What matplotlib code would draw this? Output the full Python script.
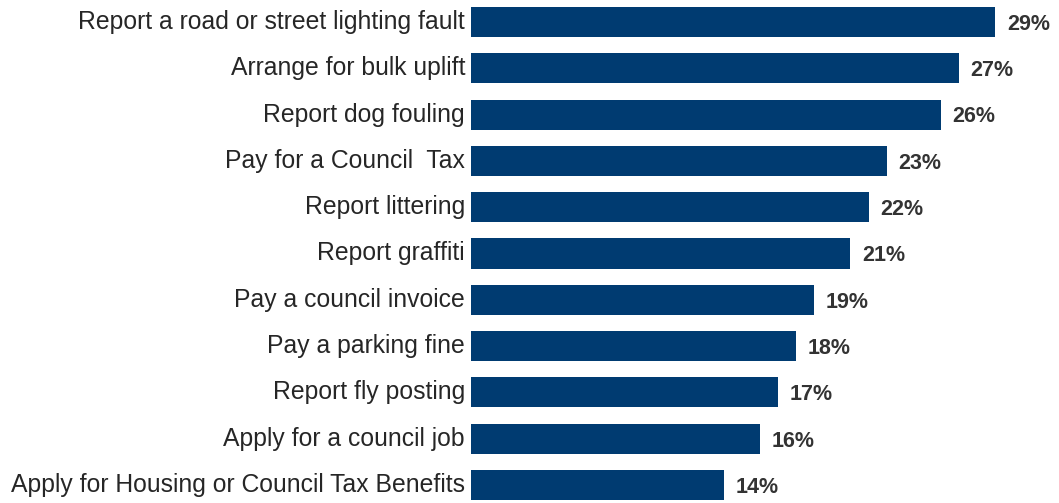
import matplotlib
matplotlib.use("Agg")
from matplotlib import pyplot as plt

plt.rcParams['font.family'] = ['Liberation Sans', 'DejaVu Sans']

# share of respondents for each online service
services = [
    'Report a road or street lighting fault',
    'Arrange for bulk uplift',
    'Report dog fouling',
    'Pay for a Council  Tax',
    'Report littering',
    'Report graffiti',
    'Pay a council invoice',
    'Pay a parking fine',
    'Report fly posting',
    'Apply for a council job',
    'Apply for Housing or Council Tax Benefits',
]
percent = [29, 27, 26, 23, 22, 21, 19, 18, 17, 16, 14]

bar_color = '#003b71'

fig = plt.figure(figsize=(10.59, 5.03), dpi=100)
ax = fig.add_axes([471 / 1059, 0, 588 / 1059, 1])

ypos = list(range(len(services)))
ax.barh(ypos, percent, height=0.65, color=bar_color)

ax.set_xlim(0, 32.54)
ax.set_ylim(10.389, -0.475)

for y, name, v in zip(ypos, services, percent):
    ax.text(-0.33, y, name, ha='right', va='center', fontsize=17.8,
            color='#262626')
    ax.text(v + 0.65, y + 0.05, f'{v}%', ha='left', va='center',
            fontsize=15.5, fontweight='bold', color='#333333')

ax.axis('off')

fig.savefig('out.png', dpi=100)
